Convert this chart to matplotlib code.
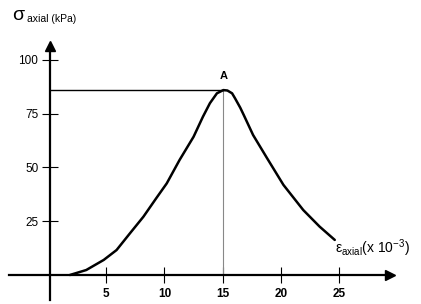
import matplotlib.pyplot as plt

plt.rcParams['font.family'] = ['Liberation Sans', 'DejaVu Sans']
plt.rcParams['mathtext.fontset'] = 'custom'
plt.rcParams['mathtext.rm'] = 'Liberation Sans'

# strain (x 10^-3) and axial stress (kPa)
strain = [1.9, 3.3, 4.8, 5.9, 7.05, 8.2, 9.3, 10.2, 11.3, 12.5, 13.3, 13.9,
          14.5, 15.05, 15.4, 15.8, 16.05, 16.5, 16.8, 17.6, 18.8, 20.2,
          21.9, 23.3, 24.6]
stress = [0, 2.3, 7.0, 11.6, 19.4, 27.1, 35.7, 42.6, 53.5, 64.3, 73.6, 79.9,
          84.5, 86.0, 85.8, 84.5, 82.2, 77.8, 74.4, 65.1, 54.3, 41.9,
          30.2, 22.5, 16.3]
peak_x = 15.05
peak_y = 86.0
x_ticks = [5, 10, 15, 20, 25]
y_ticks = [25, 50, 75, 100]

fig = plt.figure(figsize=(4.21, 3.04), dpi=100)
ax = fig.add_axes([0, 0, 1, 1])
ax.set_xlim(-4.09, 31.99)
ax.set_ylim(-13.5, 127.9)

# axes through the origin
for s in ['top', 'right']:
    ax.spines[s].set_visible(False)
ax.spines['left'].set_position(('data', 0.2))
ax.spines['bottom'].set_position(('data', 0))
ax.spines['left'].set_bounds(-11.7, 105)
ax.spines['bottom'].set_bounds(-3.3, 29.0)
ax.spines['left'].set_linewidth(1.6)
ax.spines['bottom'].set_linewidth(1.6)
ax.plot([29.3], [0], marker='>', color='black', markersize=7, clip_on=False)
ax.plot([0.2], [106.5], marker='^', color='black', markersize=7, clip_on=False)

ax.set_xticks(x_ticks)
ax.set_yticks(y_ticks)
ax.set_xticklabels([str(v) for v in x_ticks], fontweight='bold')
ax.set_yticklabels([str(v) for v in y_ticks])
ax.tick_params(axis='both', direction='inout', length=11, width=0.8,
               labelsize=8.5, colors='black')
ax.tick_params(axis='x', pad=4)
ax.tick_params(axis='y', pad=3)

# reference lines to peak A
ax.plot([peak_x, peak_x], [0, peak_y], color='#888888', lw=0.8)
ax.plot([0.2, peak_x], [peak_y, peak_y], color='black', lw=1.0)

ax.plot(strain, stress, color='black', lw=1.8, solid_capstyle='round',
        solid_joinstyle='round')

ax.text(peak_x, peak_y + 4, 'A', ha='center', va='bottom', fontsize=8,
        fontweight='bold')

ax.text(0.028, 0.935, 'σ', transform=ax.transAxes, fontsize=14, va='baseline')
ax.text(0.063, 0.928, 'axial (kPa)', transform=ax.transAxes, fontsize=7.5,
        va='baseline')
ax.text(0.795, 0.168, r'ε$_{\mathrm{axial}}$(x 10$^{-3}$)',
        transform=ax.transAxes, fontsize=10, va='baseline')

fig.savefig('out.png', dpi=100)
